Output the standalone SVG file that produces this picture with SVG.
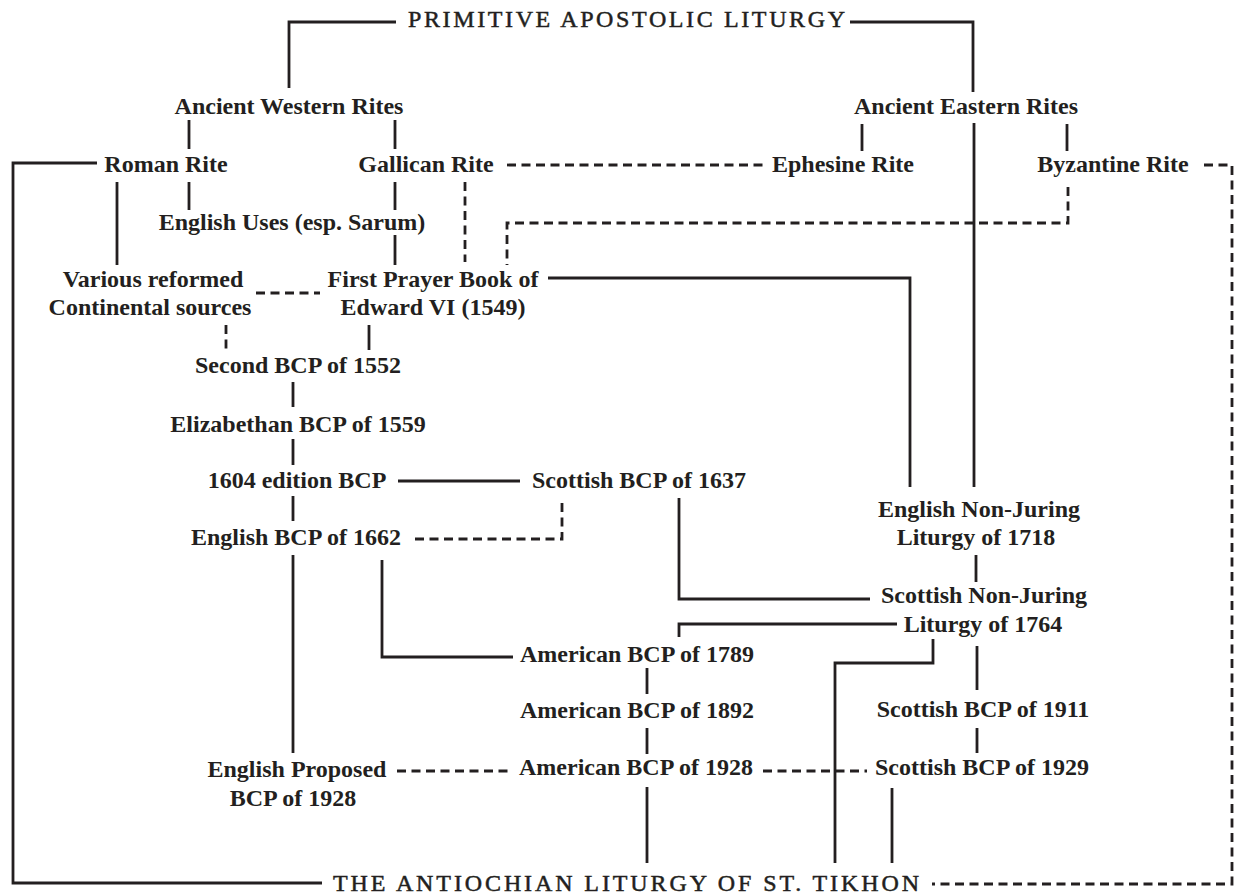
<svg xmlns="http://www.w3.org/2000/svg" width="1238" height="894" viewBox="0 0 1238 894">
<style>
text{font-family:"Liberation Serif","Times New Roman",serif;fill:#231f20}
.n{font-size:24px;font-weight:bold;text-anchor:middle}
.t{font-size:24px;font-weight:normal;stroke:#231f20;stroke-width:0.5}
.s{fill:none;stroke:#231f20;stroke-width:2.8}
.d{fill:none;stroke:#231f20;stroke-width:2.8;stroke-dasharray:9 5.5}
</style>
<rect width="1238" height="894" fill="#fff"/>
<g id="connectors">
<path class="s" d="M396,22 H289 V88"/>
<path class="s" d="M850,22 H973 V92"/>
<path class="s" d="M189,120 V149 M395,120 V149"/>
<path class="s" d="M862,124 V151 M1067,124 V151"/>
<path class="s" d="M974,123 V487"/>
<path class="s" d="M97,163 H13 V883 H322"/>
<path class="s" d="M117,182 V265 M189,182 V210"/>
<path class="s" d="M395,182 V210 M395,235 V265"/>
<path class="d" d="M507,165 H765"/>
<path class="d" d="M465,182 V262"/>
<path class="d" d="M1068,187 V223 H507 V265"/>
<path class="d" d="M1204,165 H1232 V884 H932"/>
<path class="d" d="M256,293 H320"/>
<path class="s" d="M548,278 H910 V487"/>
<path class="d" d="M226,325 V352"/>
<path class="s" d="M369,325 V350"/>
<path class="s" d="M293,382 V407 M293,439 V465 M293,496 V521"/>
<path class="s" d="M398,481 H520"/>
<path class="d" d="M415,539 H562 V498"/>
<path class="s" d="M679,498 V599 H870"/>
<path class="s" d="M293,555 V753"/>
<path class="s" d="M382,560 V657 H513"/>
<path class="s" d="M679,637 V624 H897"/>
<path class="s" d="M976,555 V582"/>
<path class="s" d="M933,639 V663 H835 V863"/>
<path class="s" d="M977,646 V690 M977,728 V753"/>
<path class="s" d="M647,668 V694 M647,728 V754 M647,787 V863"/>
<path class="s" d="M892,788 V863"/>
<path class="d" d="M397,771 H512"/>
<path class="d" d="M763,771 H867"/>
</g>
<g id="primitive"><text class="t" x="408" y="27" textLength="437" lengthAdjust="spacing">PRIMITIVE APOSTOLIC LITURGY</text></g>
<g id="western"><text class="n" x="289" y="114">Ancient Western Rites</text></g>
<g id="eastern"><text class="n" x="966" y="114">Ancient Eastern Rites</text></g>
<g id="roman"><text class="n" x="166" y="172">Roman Rite</text></g>
<g id="gallican"><text class="n" x="426" y="172">Gallican Rite</text></g>
<g id="ephesine"><text class="n" x="843" y="172">Ephesine Rite</text></g>
<g id="byzantine"><text class="n" x="1113" y="172">Byzantine Rite</text></g>
<g id="sarum"><text class="n" x="292" y="230">English Uses (esp. Sarum)</text></g>
<g id="continental"><text class="n" x="153" y="287">Various reformed</text><text class="n" x="150" y="315">Continental sources</text></g>
<g id="edward"><text class="n" x="433" y="287">First Prayer Book of</text><text class="n" x="433" y="315">Edward VI (1549)</text></g>
<g id="bcp1552"><text class="n" x="298" y="373">Second BCP of 1552</text></g>
<g id="bcp1559"><text class="n" x="298" y="432">Elizabethan BCP of 1559</text></g>
<g id="bcp1604"><text class="n" x="297" y="488">1604 edition BCP</text></g>
<g id="scot1637"><text class="n" x="639" y="488">Scottish BCP of 1637</text></g>
<g id="eng1662"><text class="n" x="296" y="545">English BCP of 1662</text></g>
<g id="nonjur1718"><text class="n" x="979" y="517">English Non-Juring</text><text class="n" x="976" y="545">Liturgy of 1718</text></g>
<g id="nonjur1764"><text class="n" x="984" y="603">Scottish Non-Juring</text><text class="n" x="983" y="632">Liturgy of 1764</text></g>
<g id="am1789"><text class="n" x="637" y="662">American BCP of 1789</text></g>
<g id="am1892"><text class="n" x="637" y="718">American BCP of 1892</text></g>
<g id="scot1911"><text class="n" x="983" y="717">Scottish BCP of 1911</text></g>
<g id="engprop"><text class="n" x="297" y="777">English Proposed</text><text class="n" x="293" y="806">BCP of 1928</text></g>
<g id="am1928"><text class="n" x="636" y="775">American BCP of 1928</text></g>
<g id="scot1929"><text class="n" x="982" y="775">Scottish BCP of 1929</text></g>
<g id="tikhon"><text class="t" x="333" y="891" textLength="586" lengthAdjust="spacing">THE ANTIOCHIAN LITURGY OF ST. TIKHON</text></g>
</svg>
